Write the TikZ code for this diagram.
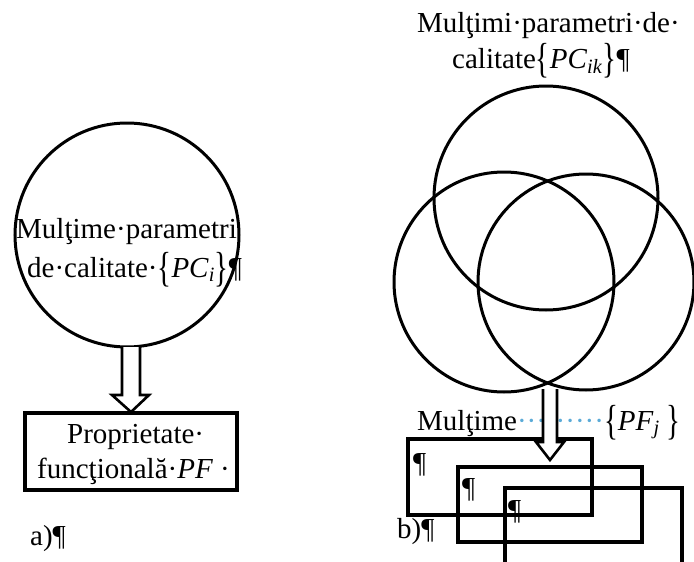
\documentclass[tikz,border=0pt]{standalone}
\usepackage{fontspec}
\setmainfont{Liberation Serif}
\newcommand{\brc}[1]{\raisebox{-0.17em}{\scalebox{1}[1.45]{#1}}}
\definecolor{fmtdot}{RGB}{90,170,215}
\begin{document}
\begin{tikzpicture}[x=1pt,y=-1pt,
  txt/.style={anchor=base west, inner sep=0pt, font=\fontsize{29}{34}\selectfont},
  ring/.style={draw, circle, line width=3pt, inner sep=0pt},
  frame/.style={draw, line width=3.3pt},
  fatarrow/.style={draw, fill=white, line width=2.6pt, line join=miter}]
\useasboundingbox (0,0) rectangle (694,562);
\clip (0,0) rectangle (694,562);

% ---------- a) ----------
\node[ring, minimum size=224pt] (ca) at (127,235) {};
\node[txt] (ta1) at (16,238) {Mulţime·parametri};
\node[txt] (ta2) at (27,277) {de·calitate·\brc{\{}\textit{PC}\textsubscript{\textit{i}}\brc{\}}¶};
\node[frame, minimum width=212pt, minimum height=77pt, inner sep=0pt] (ba) at (131,451.5) {};
\node[txt] (pa1) at (67,443) {Proprietate·};
\node[txt] (pa2) at (37,478) {funcţională·\textit{PF} ·};
\node[txt] (la) at (30,545) {a)¶};
\draw[fatarrow] (122,347) -- (122,395) -- (112,395) -- (131,412) -- (149,395) -- (140,395) -- (140,347);

% ---------- b) ----------
\node[ring, minimum size=224pt] (c1) at (546,198) {};
\node[ring, minimum size=220pt] (c2) at (504,282) {};
\node[ring, minimum size=216pt] (c3) at (586,282) {};
\node[txt] (tb1) at (417,32) {Mulţimi·parametri·de·};
\node[txt] (tb2) at (452,68) {calitate\brc{\{}\textit{PC}\textsubscript{\textit{ik}}\brc{\}}¶};
\node[txt] (tb3) at (417,430) {Mulţime\textcolor{fmtdot}{·········}\brc{\{}\textit{PF}\textsubscript{\textit{j}} \brc{\}}};
\node[frame, minimum width=184pt, minimum height=76pt, inner sep=0pt] (r1) at (500,477) {};
\node[frame, minimum width=184pt, minimum height=75pt, inner sep=0pt] (r2) at (550,504.5) {};
\draw[frame] (505,600) -- (505,488) -- (682,488) -- (682,600);
\node[txt] (p1) at (413,472) {¶};
\node[txt] (p2) at (462,497) {¶};
\node[txt] (p3) at (508,519) {¶};
\node[txt] (lb) at (397,538) {b)¶};
\draw[fatarrow] (543,389) -- (543,442) -- (536,442) -- (550,460) -- (564,442) -- (557,442) -- (557,389);
\end{tikzpicture}
\end{document}
